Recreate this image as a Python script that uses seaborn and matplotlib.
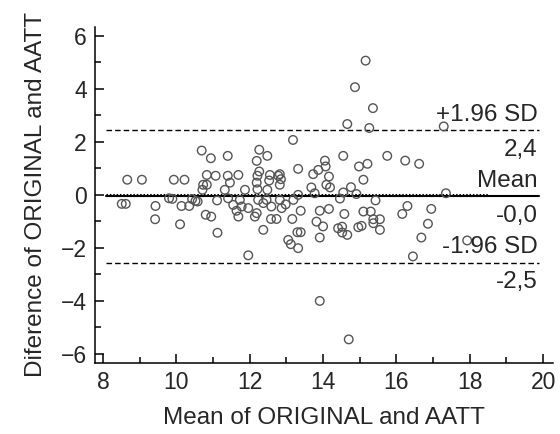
import numpy as np
import pandas as pd
import seaborn as sns
import matplotlib.pyplot as plt
from matplotlib.ticker import MultipleLocator

# Bland-Altman data
mean_vals = [8.51, 8.62, 8.66, 9.06, 9.43, 9.42, 9.80, 9.89, 9.93, 10.10,
             10.14, 10.22, 10.35, 10.43, 10.52, 10.58, 10.69, 10.94, 10.83, 11.07,
             10.73, 10.83, 10.71, 10.80, 10.95, 11.11, 11.12,
             11.40, 12.26, 12.48, 12.19, 13.18, 11.40, 11.69, 11.46, 12.26,
             12.21, 12.19, 12.21, 12.55, 12.53, 12.78, 11.32, 11.87, 12.48, 13.32,
             12.82, 12.85, 12.82, 13.73, 13.87, 14.05, 14.07, 14.16, 13.68, 14.09,
             14.19, 13.32, 13.77, 11.41, 11.73, 11.55, 11.78, 11.96,
             11.64, 11.69, 12.14, 12.19, 12.23, 12.37, 12.46, 12.59, 12.58, 12.73,
             12.37, 11.96, 12.82, 13.19, 12.87, 12.98, 13.16, 13.39, 13.91, 14.16,
             13.82, 14.00, 14.41, 13.30, 13.39, 13.91, 13.05, 13.12, 13.32,
             15.16, 14.87, 15.36, 14.66, 15.26, 17.29, 14.55, 15.75, 16.24, 16.62,
             14.98, 15.21, 15.10, 14.76, 14.55, 14.91, 14.46, 15.43, 17.35, 14.58,
             15.10, 15.30, 16.30, 16.16, 16.95, 15.37, 15.55, 14.52, 14.96, 15.05,
             15.37, 15.55, 14.52, 14.66, 16.86, 16.68, 17.93, 16.45, 13.91, 14.70]
diff_vals = [-0.34, -0.34, 0.57, 0.57, -0.42, -0.92, -0.13, -0.15, 0.57, -1.11,
             -0.42, 0.57, -0.42, -0.16, -0.23, -0.25, 1.67, 1.38, 0.75, 0.72,
             0.38, 0.38, 0.19, -0.75, -0.82, -0.21, -1.43,
             1.47, 1.70, 1.47, 1.28, 2.07, 0.72, 0.75, 0.46, 0.88,
             0.72, 0.46, 0.21, 0.75, 0.54, 0.72, 0.19, 0.19, 0.19, 0.98,
             0.78, 0.59, 0.38, 0.78, 0.94, 1.29, 1.07, 0.69, 0.28, 0.38,
             0.28, 0.00, 0.06, -0.13, -0.19, -0.38, -0.44, -0.50,
             -0.60, -0.82, -0.82, -0.69, -0.19, -0.31, -0.19, -0.44, -0.91, -0.91,
             -1.32, -2.28, -0.19, -0.19, -0.50, -0.36, -0.91, -0.60, -0.60, -0.53,
             -1.01, -1.19, -1.26, -1.41, -1.41, -1.61, -1.70, -1.86, -2.01,
             5.06, 4.06, 3.27, 2.67, 2.52, 2.58, 1.47, 1.47, 1.29, 1.17,
             1.07, 1.17, 0.57, 0.29, 0.09, 0.03, -0.14, -0.21, 0.06, -0.72,
             -0.63, -0.63, -0.42, -0.72, -0.53, -0.92, -0.92, -1.20, -1.22, -1.17,
             -1.07, -1.32, -1.42, -1.51, -1.09, -1.61, -1.72, -2.32, -4.00, -5.45]

mean_diff = -0.05
upper_loa = 2.45
lower_loa = -2.57
line_labels = ["+1.96 SD", "2,4", "Mean", "-0,0", "-1.96 SD", "-2,5"]

df = pd.DataFrame({"mean": mean_vals, "diff": diff_vals})

sns.set_style("ticks")
plt.rcParams["font.family"] = ["Liberation Sans", "DejaVu Sans"]
plt.rcParams["font.size"] = 16

fig = plt.figure(figsize=(5.6, 4.34), dpi=100)
ax = fig.add_axes([0.1696, 0.1636, 0.8179, 0.7749])

sns.scatterplot(data=df, x="mean", y="diff", ax=ax, s=38, marker="o",
                facecolor="none", edgecolor="#555555", linewidth=1.0, zorder=3)

x0, x1 = 8.08, 19.9
ax.plot([x0, x1], [mean_diff, mean_diff], color="black", lw=1.5, zorder=2)
ax.plot([x0, 18.5], [0, 0], color="black", lw=2.2, ls=(0, (0.5, 0.6)), zorder=2)
ax.plot([x0, x1], [upper_loa, upper_loa], color="black", lw=1.0, ls=(0, (4, 2.2)), zorder=2)
ax.plot([x0, x1], [lower_loa, lower_loa], color="black", lw=1.0, ls=(0, (4, 2.2)), zorder=2)

tx = 19.85
fs = 17.5
ax.text(tx, upper_loa + 0.35, line_labels[0], ha="right", va="baseline", fontsize=fs)
ax.text(tx, upper_loa - 1.0, line_labels[1], ha="right", va="baseline", fontsize=fs)
ax.text(tx, mean_diff + 0.35, line_labels[2], ha="right", va="baseline", fontsize=fs)
ax.text(tx, mean_diff - 0.97, line_labels[3], ha="right", va="baseline", fontsize=fs)
ax.text(tx, lower_loa + 0.38, line_labels[4], ha="right", va="baseline", fontsize=fs)
ax.text(tx, lower_loa - 0.93, line_labels[5], ha="right", va="baseline", fontsize=fs)

ax.set_xlim(7.78, 20.27)
ax.set_ylim(-6.34, 6.34)
ax.xaxis.set_major_locator(MultipleLocator(2))
ax.xaxis.set_minor_locator(MultipleLocator(1))
ax.yaxis.set_major_locator(MultipleLocator(2))
ax.yaxis.set_minor_locator(MultipleLocator(1))
ax.tick_params(which="major", direction="in", length=6.5, width=1.1, labelsize=16.5, pad=6, color="black")
ax.tick_params(which="minor", direction="in", length=4, width=1.1, color="black")

for side in ["left", "bottom"]:
    ax.spines[side].set_linewidth(1.1)
    ax.spines[side].set_color("black")
sns.despine(ax=ax)

ax.set_xlabel("Mean of ORIGINAL and AATT", fontsize=17.5, labelpad=9)
ax.set_ylabel("Diference of ORIGINAL and AATT", fontsize=17.5, labelpad=10)

fig.savefig("out.png", dpi=100)
